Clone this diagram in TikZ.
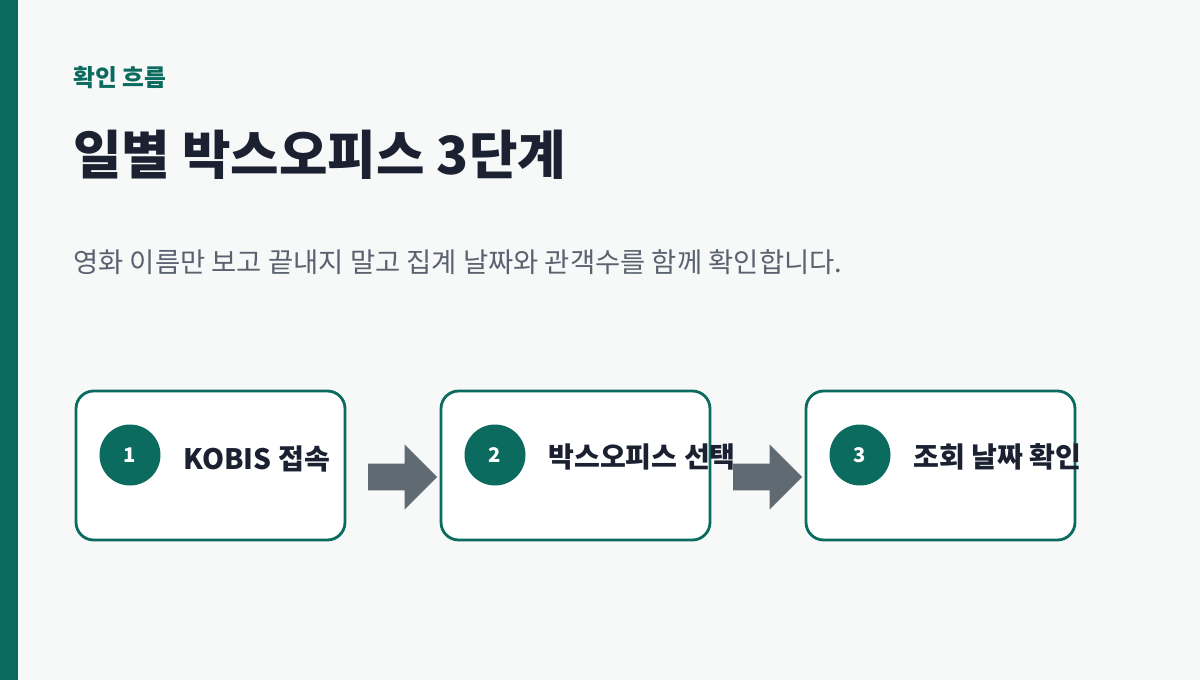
\documentclass[tikz,border=0pt]{standalone}
\usepackage{fontspec}
\setmainfont{Noto Sans CJK KR}
\usetikzlibrary{positioning,shapes.arrows}
\definecolor{teal}{HTML}{0B6B5E}
\definecolor{bg}{HTML}{F7F8F8}
\definecolor{ink}{HTML}{1B2130}
\definecolor{sub}{HTML}{5A6270}
\definecolor{arr}{HTML}{5F6A72}
\tikzset{
  stepbox/.style={draw=teal, line width=1.6pt, rounded corners=10pt, fill=white, minimum width=5.38cm, minimum height=2.98cm, inner sep=0pt},
  num/.style={circle, fill=teal, minimum size=1.22cm, inner sep=0pt, text=white, font=\fontsize{11.5}{14}\selectfont\bfseries},
  lab/.style={anchor=west, text=ink, font=\fontsize{16}{18}\selectfont\bfseries, inner sep=0pt},
  flow/.style={single arrow, fill=arr, minimum height=1.38cm, minimum width=1.3cm, single arrow head extend=0.01cm, inner sep=0pt, shape border uses incircle=false}
}
\begin{document}
\begin{tikzpicture}[x=0.02cm,y=-0.02cm]
  \fill[bg] (0,0) rectangle (1200,680);
  \fill[teal] (0,0) rectangle (18,680);
  \useasboundingbox (0,0) rectangle (1200,680);

  \node[anchor=west, inner sep=0pt, text=teal, font=\fontsize{13.5}{16}\selectfont\bfseries] (kicker) at (73,78) {확인 흐름};
  \node[anchor=west, inner sep=0pt, text=ink, font=\fontsize{30}{34}\selectfont\bfseries] (title) at (73,155) {일별 박스오피스 3단계};
  \node[anchor=west, inner sep=0pt, text=sub, font=\fontsize{15.6}{18}\selectfont] (lead) at (73,262) {영화 이름만 보고 끝내지 말고 집계 날짜와 관객수를 함께 확인합니다.};

  % steps
  \node[stepbox] (s1) at (210.5,465.5) {};
  \node[stepbox] (s2) at (575.5,465.5) {};
  \node[stepbox] (s3) at (940.5,465.5) {};

  \node[num] (n1) at (130,455) {1};
  \node[num] (n2) at (495,455) {2};
  \node[num] (n3) at (860,455) {3};

  \node[lab] (l1) at (183,459) {KOBIS 접속};
  \node[lab] (l2) at (548,457) {박스오피스 선택};
  \node[lab] (l3) at (913,457) {조회 날짜 확인};

  % arrows
  \node[flow] (a1) at (396,477) {};
  \node[flow] (a2) at (761,477) {};
\end{tikzpicture}
\end{document}
